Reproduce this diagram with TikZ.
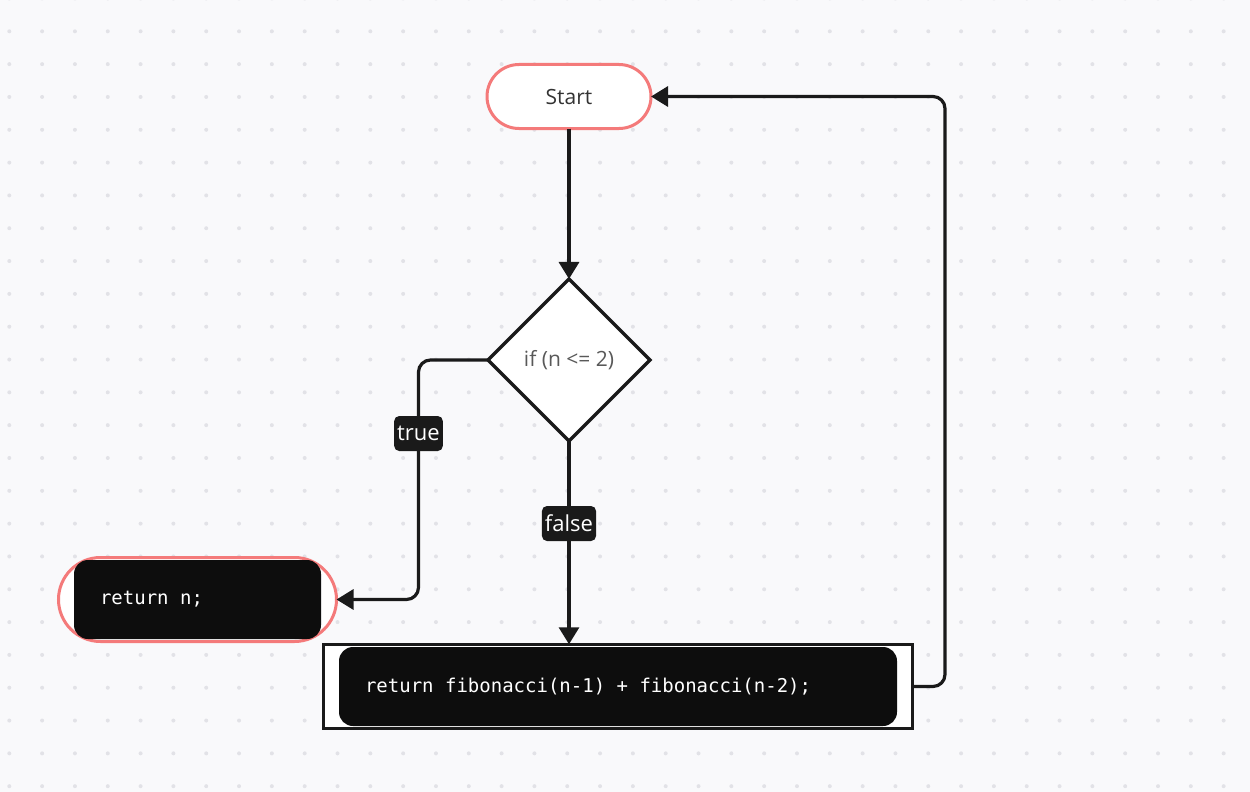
\documentclass[tikz,border=0pt]{standalone}
\usepackage{fontspec}
\setmainfont{Open Sans}
\setmonofont{DejaVu Sans Mono}
\usepackage{tikz}
\usetikzlibrary{arrows.meta,calc,positioning,shapes.geometric}
\definecolor{paper}{RGB}{249,249,251}
\definecolor{griddot}{RGB}{226,226,231}
\definecolor{salmon}{RGB}{244,122,122}
\definecolor{ink}{RGB}{26,26,26}
\definecolor{codebg}{RGB}{13,13,13}
\newcommand{\msp}{\hphantom{x}}
\tikzset{
	fib chart/.style={
		x=1pt, y=-1pt,
		every node/.style={outer sep=0pt},
		font=\fontsize{21}{25}\selectfont,
		term/.style={draw=salmon, line width=3pt, fill=white,
			minimum width=##1, minimum height=64pt, rounded corners=32pt},
		decision/.style={diamond, draw=ink, line width=3.2pt, fill=white,
			shape aspect=1, minimum size=162pt, inner sep=0pt, text=black!65},
		frame/.style={draw=ink, line width=2.8pt, fill=white,
			minimum width=589pt, minimum height=84.5pt},
		codebox/.style={fill=codebg, text=white, rounded corners=14pt,
			font=\ttfamily\fontsize{19}{23}\selectfont,
			inner xsep=26pt, minimum height=79pt, align=left, text width=##1},
		tag/.style={fill=ink, text=white, rounded corners=5pt,
			font=\fontsize{22}{26}\selectfont,
			inner xsep=3pt, inner ysep=0pt, minimum height=35pt},
		ar/.style={draw=ink, line width=3.2pt, rounded corners=12pt,
			-{Triangle[length=17pt,width=20pt]}}
		}
}

\begin{document}
\begin{tikzpicture}[fib chart]
	% dotted paper
	\fill[paper] (0,0) rectangle (1250,792);
	\useasboundingbox (0,0) rectangle (1250,792);
	\begin{scope}
		\clip (0,0) rectangle (1250,792);
		\foreach \i in {0,...,37} {
			\foreach \j in {0,...,24} {
				\fill[griddot] ({9.3+32.82*\i},{-1.5+32.82*\j}) circle (2pt);
			}
		}
	\end{scope}

	\node[term=164pt, text=black!80] (start) at (569,96.5) {Start};
	\node[decision] (dia) at (569,360) {if (n <= 2)};
	\node[term=278pt, minimum height=84pt, rounded corners=42pt] (retn) at (197.5,599.5) {};
	\node[codebox=195pt] (retncode) at (retn) {return\msp n;};
	\node[frame] (fibo) at (618,686.5) {};
	\node[codebox=506pt] (fibocode) at (fibo)
		{return\msp fibonacci(n-1)\msp+\msp fibonacci(n-2);};
	\node[tag] (tru) at (418.5,433.5) {true};
	\node[tag] (fls) at (569,523.5) {false};
	\coordinate (bend) at (945,96.5);

	\draw[ar] (start) -- (dia);
	\draw[ar] (dia.west) -| (tru) |- (retn.east);
	\draw[ar] (dia.south) -- (fls) -- (dia.south |- fibo.north);
	\draw[ar] (fibo.east) -| (bend) -- (start.east);
\end{tikzpicture}
\end{document}
